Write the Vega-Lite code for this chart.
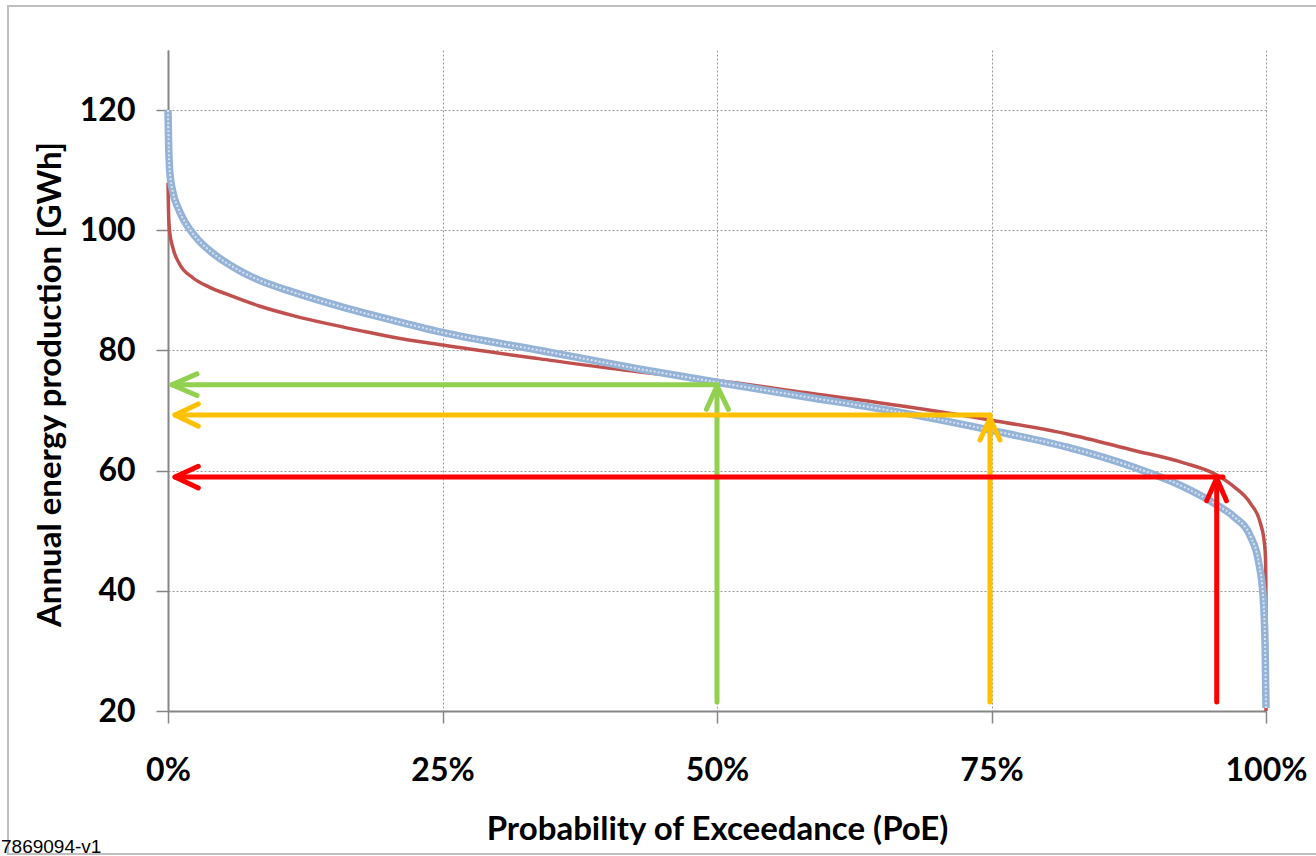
{
  "$schema": "https://vega.github.io/schema/vega-lite/v6.json",
  "width": 1098,
  "height": 661,
  "autosize": {"type": "none"},
  "padding": {"left": 168, "top": 50, "right": 50, "bottom": 145},
  "background": "white",
  "config": {
    "view": {"stroke": null},
    "axis": {
      "domainColor": "#868686",
      "domainWidth": 2,
      "tickColor": "#868686",
      "tickWidth": 1.5,
      "tickSize": 12,
      "gridColor": "#999999",
      "gridDash": [2, 2],
      "gridWidth": 1,
      "labelFont": "Lato",
      "labelFontWeight": "bold",
      "labelFontSize": 32,
      "labelColor": "#000000",
      "labelFlush": false,
      "titleFont": "Lato",
      "titleFontWeight": "bold",
      "titleFontSize": 33,
      "titleColor": "#000000"
    }
  },
  "datasets": {
    "curves": [
      {"s": "normal", "p": 0, "v": 107.9},
      {"s": "normal", "p": 0.0005, "v": 103},
      {"s": "normal", "p": 0.0014, "v": 99.9},
      {"s": "normal", "p": 0.0044, "v": 97.1},
      {"s": "normal", "p": 0.0105, "v": 94.4},
      {"s": "normal", "p": 0.0226, "v": 92.1},
      {"s": "normal", "p": 0.038, "v": 90.5},
      {"s": "normal", "p": 0.053, "v": 89.4},
      {"s": "normal", "p": 0.083, "v": 87.4},
      {"s": "normal", "p": 0.114, "v": 85.8},
      {"s": "normal", "p": 0.144, "v": 84.5},
      {"s": "normal", "p": 0.175, "v": 83.3},
      {"s": "normal", "p": 0.205, "v": 82.2},
      {"s": "normal", "p": 0.25, "v": 80.9},
      {"s": "normal", "p": 0.339, "v": 78.6},
      {"s": "normal", "p": 0.43, "v": 76.4},
      {"s": "normal", "p": 0.5, "v": 75.0},
      {"s": "normal", "p": 0.58, "v": 73.0},
      {"s": "normal", "p": 0.667, "v": 70.8},
      {"s": "normal", "p": 0.75, "v": 68.4},
      {"s": "normal", "p": 0.819, "v": 66.1},
      {"s": "normal", "p": 0.879, "v": 63.4},
      {"s": "normal", "p": 0.925, "v": 61.3},
      {"s": "normal", "p": 0.956, "v": 59.2},
      {"s": "normal", "p": 0.971, "v": 57.3},
      {"s": "normal", "p": 0.986, "v": 54.5},
      {"s": "normal", "p": 0.995, "v": 51.2},
      {"s": "normal", "p": 0.9985, "v": 48.0},
      {"s": "normal", "p": 0.9995, "v": 45.6},
      {"s": "normal", "p": 0.9999, "v": 40.0},
      {"s": "normal", "p": 1.0, "v": 20.0},
      {"s": "simulated", "p": 0, "v": 120},
      {"s": "simulated", "p": 0.0005, "v": 115},
      {"s": "simulated", "p": 0.0015, "v": 110},
      {"s": "simulated", "p": 0.0045, "v": 106.3},
      {"s": "simulated", "p": 0.009, "v": 103.8},
      {"s": "simulated", "p": 0.0135, "v": 102.0},
      {"s": "simulated", "p": 0.02, "v": 100.1},
      {"s": "simulated", "p": 0.028, "v": 98.3},
      {"s": "simulated", "p": 0.038, "v": 96.6},
      {"s": "simulated", "p": 0.053, "v": 94.6},
      {"s": "simulated", "p": 0.068, "v": 93.0},
      {"s": "simulated", "p": 0.083, "v": 91.7},
      {"s": "simulated", "p": 0.114, "v": 89.7},
      {"s": "simulated", "p": 0.144, "v": 88.0},
      {"s": "simulated", "p": 0.175, "v": 86.4},
      {"s": "simulated", "p": 0.205, "v": 85.0},
      {"s": "simulated", "p": 0.25, "v": 83.0},
      {"s": "simulated", "p": 0.339, "v": 80.0},
      {"s": "simulated", "p": 0.43, "v": 76.9},
      {"s": "simulated", "p": 0.5, "v": 74.7},
      {"s": "simulated", "p": 0.58, "v": 72.3},
      {"s": "simulated", "p": 0.667, "v": 69.7},
      {"s": "simulated", "p": 0.75, "v": 66.7},
      {"s": "simulated", "p": 0.819, "v": 63.9},
      {"s": "simulated", "p": 0.879, "v": 60.6},
      {"s": "simulated", "p": 0.925, "v": 57.3},
      {"s": "simulated", "p": 0.956, "v": 54.2},
      {"s": "simulated", "p": 0.971, "v": 52.3},
      {"s": "simulated", "p": 0.986, "v": 49.0},
      {"s": "simulated", "p": 0.9936, "v": 44.5},
      {"s": "simulated", "p": 0.9974, "v": 39.0},
      {"s": "simulated", "p": 0.9992, "v": 30.7},
      {"s": "simulated", "p": 1.0, "v": 20.5}
    ],
    "arrows": [
      {"a": "P50", "seg": "P50h", "o": 1, "p": 0.5005, "v": 74.3},
      {"a": "P50", "seg": "P50h", "o": 2, "p": 0.0036, "v": 74.3},
      {"a": "P50", "seg": "P50l", "o": 1, "p": 0.0264, "v": 76.1},
      {"a": "P50", "seg": "P50l", "o": 2, "p": 0.0036, "v": 74.3},
      {"a": "P50", "seg": "P50l", "o": 3, "p": 0.0264, "v": 72.5},
      {"a": "P50", "seg": "P50v", "o": 1, "p": 0.5, "v": 21.5},
      {"a": "P50", "seg": "P50v", "o": 2, "p": 0.5, "v": 74.1},
      {"a": "P50", "seg": "P50u", "o": 1, "p": 0.4904, "v": 70.2},
      {"a": "P50", "seg": "P50u", "o": 2, "p": 0.5, "v": 74.1},
      {"a": "P50", "seg": "P50u", "o": 3, "p": 0.5104, "v": 70.2},
      {"a": "P75", "seg": "P75h", "o": 1, "p": 0.7486, "v": 69.26},
      {"a": "P75", "seg": "P75h", "o": 2, "p": 0.0064, "v": 69.26},
      {"a": "P75", "seg": "P75l", "o": 1, "p": 0.0276, "v": 71.1},
      {"a": "P75", "seg": "P75l", "o": 2, "p": 0.0064, "v": 69.26},
      {"a": "P75", "seg": "P75l", "o": 3, "p": 0.0276, "v": 67.4},
      {"a": "P75", "seg": "P75v", "o": 1, "p": 0.7486, "v": 21.5},
      {"a": "P75", "seg": "P75v", "o": 2, "p": 0.7486, "v": 69.26},
      {"a": "P75", "seg": "P75u", "o": 1, "p": 0.7395, "v": 65.1},
      {"a": "P75", "seg": "P75u", "o": 2, "p": 0.7486, "v": 68.7},
      {"a": "P75", "seg": "P75u", "o": 3, "p": 0.7577, "v": 65.1},
      {"a": "P90", "seg": "P90h", "o": 1, "p": 0.9608, "v": 58.94},
      {"a": "P90", "seg": "P90h", "o": 2, "p": 0.0064, "v": 58.94},
      {"a": "P90", "seg": "P90l", "o": 1, "p": 0.0276, "v": 60.72},
      {"a": "P90", "seg": "P90l", "o": 2, "p": 0.0064, "v": 58.94},
      {"a": "P90", "seg": "P90l", "o": 3, "p": 0.0276, "v": 57.11},
      {"a": "P90", "seg": "P90v", "o": 1, "p": 0.9551, "v": 21.5},
      {"a": "P90", "seg": "P90v", "o": 2, "p": 0.9551, "v": 58.73},
      {"a": "P90", "seg": "P90u", "o": 1, "p": 0.946, "v": 55.0},
      {"a": "P90", "seg": "P90u", "o": 2, "p": 0.9551, "v": 58.73},
      {"a": "P90", "seg": "P90u", "o": 3, "p": 0.964, "v": 55.0}
    ]
  },
  "layer": [
    {
      "data": {"name": "curves"},
      "transform": [{"filter": "datum.s === 'normal'"}],
      "mark": {"type": "line", "color": "#C0504D", "strokeWidth": 3.5, "interpolate": "monotone"},
      "encoding": {
        "x": {
          "field": "p",
          "type": "quantitative",
          "scale": {"domain": [0, 1], "nice": false, "zero": false},
          "axis": {
            "title": "Probability of Exceedance (PoE)",
            "values": [0, 0.25, 0.5, 0.75, 1],
            "format": ".0%",
            "labelPadding": 32,
            "titleX": 549,
            "titleY": 128,
            "titleBaseline": "alphabetic",
            "titleAnchor": "middle"
          }
        },
        "y": {
          "field": "v",
          "type": "quantitative",
          "scale": {"domain": [20, 130], "nice": false, "zero": false},
          "axis": {
            "title": "Annual energy production [GWh]",
            "values": [20, 40, 60, 80, 100, 120],
            "labelPadding": 21,
            "titleX": -108,
            "titleY": 334,
            "titleAngle": -90,
            "titleBaseline": "alphabetic"
          }
        }
      }
    },
    {
      "data": {"name": "curves"},
      "transform": [{"filter": "datum.s === 'simulated'"}],
      "mark": {"type": "line", "color": "#95B3D7", "strokeWidth": 7.5, "interpolate": "monotone"},
      "encoding": {
        "x": {"field": "p", "type": "quantitative"},
        "y": {"field": "v", "type": "quantitative"}
      }
    },
    {
      "data": {"name": "curves"},
      "transform": [{"filter": "datum.s === 'simulated'"}],
      "mark": {"type": "line", "color": "#E6ECF6", "strokeWidth": 2, "strokeDash": [2, 2], "opacity": 0.85, "interpolate": "monotone"},
      "encoding": {
        "x": {"field": "p", "type": "quantitative"},
        "y": {"field": "v", "type": "quantitative"}
      }
    },
    {
      "data": {"name": "arrows"},
      "mark": {"type": "line", "strokeCap": "round", "strokeJoin": "round"},
      "encoding": {
        "x": {"field": "p", "type": "quantitative"},
        "y": {"field": "v", "type": "quantitative"},
        "detail": {"field": "seg", "type": "nominal"},
        "order": {"field": "o", "type": "quantitative"},
        "color": {
          "field": "a",
          "type": "nominal",
          "scale": {"domain": ["P50", "P75", "P90"], "range": ["#92D050", "#FFC000", "#FF0000"]},
          "legend": null
        },
        "strokeWidth": {
          "field": "a",
          "type": "nominal",
          "scale": {"domain": ["P50", "P75", "P90"], "range": [5, 5, 6]},
          "legend": null
        }
      }
    },
    {
      "data": {"values": [{"t": "frame"}]},
      "mark": {"type": "rect", "filled": false, "fill": null, "stroke": "#BFBFBF", "strokeWidth": 2},
      "encoding": {
        "x": {"datum": -0.1457, "type": "quantitative"},
        "x2": {"datum": 1.0583},
        "y": {"datum": 137.32, "type": "quantitative"},
        "y2": {"datum": -3.8}
      }
    },
    {
      "data": {"values": [{"t": "7869094-v1"}]},
      "mark": {"type": "text", "font": "Liberation Sans", "fontSize": 19, "align": "left", "baseline": "alphabetic", "color": "#000000"},
      "encoding": {
        "x": {"datum": -0.1521, "type": "quantitative"},
        "y": {"datum": -3.55, "type": "quantitative"},
        "text": {"field": "t", "type": "nominal"}
      }
    }
  ]
}
